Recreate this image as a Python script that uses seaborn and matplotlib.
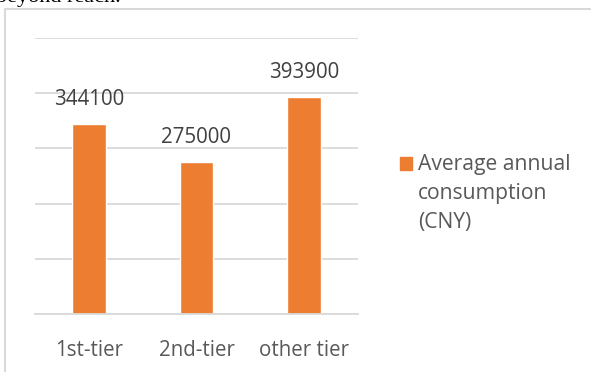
import matplotlib
matplotlib.use("Agg")
import matplotlib.pyplot as plt
import seaborn as sns
import pandas as pd
from matplotlib.patches import Rectangle
from matplotlib.lines import Line2D

categories = ["1st-tier", "2nd-tier", "other tier"]
values = [344100, 275000, 393900]
series_name = "Average annual\nconsumption\n(CNY)"

sns.set_theme(style="white")
plt.rcParams['font.family'] = ['Open Sans', 'DejaVu Sans']

df = pd.DataFrame({"tier": categories, "value": values})

fig = plt.figure(figsize=(5.91, 3.72), dpi=100)
W, H = 591, 372
ax = fig.add_axes([35 / W, 1 - 314 / H, (358 - 35) / W, (314 - 38) / H])

sns.barplot(data=df, x="tier", y="value", color="#ED7D31", width=0.31,
            saturation=1, ax=ax)
ax.set_ylim(0, 500000)
ax.set_yticks([0, 100000, 200000, 300000, 400000, 500000])
ax.yaxis.grid(True, color="#D9D9D9", linewidth=1.3)
ax.set_axisbelow(True)
ax.set_yticklabels([])
ax.tick_params(axis="y", length=0)
ax.tick_params(axis="x", length=0, labelsize=14.8, colors="#595959", pad=19)
ax.set_xlabel("")
ax.set_ylabel("")
for s in ["top", "right", "left"]:
    ax.spines[s].set_visible(False)
ax.spines["bottom"].set_color("#D9D9D9")
ax.spines["bottom"].set_linewidth(1.3)

for i, v in enumerate(values):
    ax.annotate(str(v), (i, v), xytext=(0, 10), textcoords="offset points",
                ha="center", va="bottom", fontsize=14.8, color="#404040")

# legend
fig.patches.append(Rectangle((400 / W, 1 - 170 / H), 12 / W, 13 / H,
                             transform=fig.transFigure, color="#ED7D31"))
fig.text(418 / W, 1 - 154 / H, series_name, ha="left", va="top",
         fontsize=15.2, color="#595959", linespacing=1.5)

# chart border
fig.add_artist(Line2D([5 / W, 5 / W], [0, 1 - 9 / H], transform=fig.transFigure,
                      color="#D9D9D9", linewidth=1.5))
fig.add_artist(Line2D([5 / W, 1], [1 - 9 / H, 1 - 9 / H], transform=fig.transFigure,
                      color="#D9D9D9", linewidth=1.5))

# cropped document text
fig.text(-4 / W, 1 - 2 / H, "beyond reach.", ha="left", va="baseline",
         fontsize=16, family="Liberation Serif", color="black")

fig.savefig("out.png", dpi=100)
